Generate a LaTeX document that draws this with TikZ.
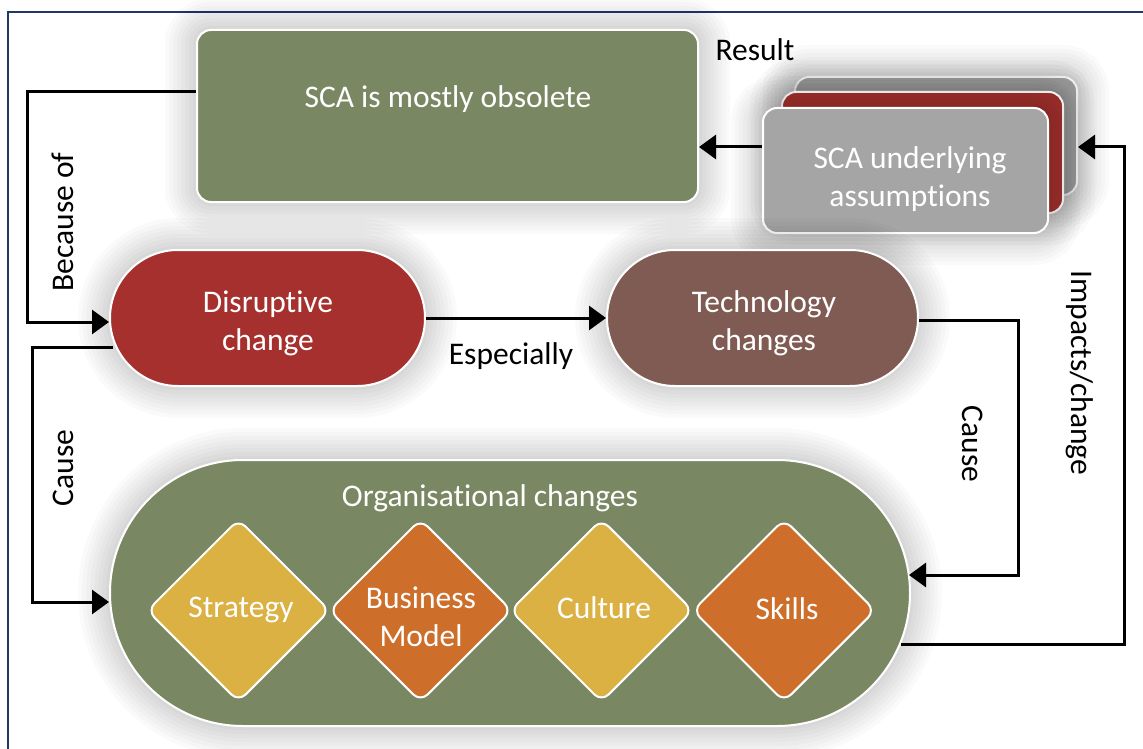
\documentclass[tikz,border=0pt]{standalone}
\usepackage{fontspec}
\setmainfont{Carlito}[Ligatures=NoCommon]
\usetikzlibrary{arrows.meta,shapes.geometric}
\definecolor{olivebox}{HTML}{7A8763}
\definecolor{redbox}{HTML}{A5302D}
\definecolor{brownbox}{HTML}{7F5B53}
\definecolor{graybox}{HTML}{A5A5A5}
\definecolor{goldbox}{HTML}{DBB143}
\definecolor{orangebox}{HTML}{CD6E2B}
\definecolor{framenavy}{HTML}{203864}
\begin{document}
\begin{tikzpicture}[x=1pt,y=-1pt,
  gl/.style={preaction={draw=black, draw opacity=0.018, line width=#1}},
  soft/.style={gl=64pt,gl=56pt,gl=48pt,gl=40pt,gl=32pt,gl=24pt,gl=16pt,gl=8pt},
  box/.style={draw=white, line width=2pt, rounded corners=14pt, inner sep=0pt, soft},
  pill/.style={draw=white, line width=2pt, rounded corners=68pt, inner sep=0pt, soft,
    minimum height=136pt},
  dia/.style={diamond, draw=white, line width=2pt, rounded corners=10pt, inner sep=0pt,
    minimum width=183pt, minimum height=183pt, shape aspect=1},
  wtext/.style={text=white, align=center, font=\fontsize{31.5}{38}\selectfont},
  btext/.style={text=black, font=\fontsize{31.5}{38}\selectfont},
  conn/.style={draw=black, line width=3pt, -{Triangle[length=17pt,width=24pt]}},
]
\useasboundingbox (0,0) rectangle (1143,749);
\fill[white] (0,0) rectangle (1143,749);
\draw[framenavy, line width=2pt] (8,770) -- (8,12) -- (1170,12);

% top boxes
\node[box, fill=olivebox, minimum width=501pt, minimum height=172pt] (sca) at (447.5,116) {};
\node[wtext] (scatext) at (448,99) {SCA is mostly obsolete};

\node[box, fill=graybox, minimum width=282pt, minimum height=118pt] (back) at (936,136) {};
\node[box, fill=redbox, minimum width=281pt, minimum height=121pt] (mid) at (922.5,152.5) {};
\node[box, fill=graybox, minimum width=285pt, minimum height=125pt] (front) at (905.5,170.5) {};
\node[wtext] (fronttext) at (910,179) {SCA underlying\\assumptions};

% middle pills
\node[pill, fill=redbox, minimum width=315pt] (dis) at (267.5,318) {};
\node[wtext] (distext) at (268,323) {Disruptive\\change};
\node[pill, fill=brownbox, minimum width=311pt] (tech) at (762.5,318) {};
\node[wtext] (techtext) at (764,323) {Technology\\changes};

% organisational changes
\node[draw=white, line width=2pt, rounded corners=133pt, inner sep=0pt, soft,
  fill=olivebox, minimum width=800pt, minimum height=266pt] (org) at (510,593) {};
\node[wtext] (orgtext) at (490,498) {Organisational changes};

\node[dia, fill=goldbox] (strat) at (238.5,610.5) {};
\node[dia, fill=orangebox] (bm) at (420.5,610.5) {};
\node[dia, fill=goldbox] (cult) at (601.5,610.5) {};
\node[dia, fill=orangebox] (skills) at (784,610.5) {};
\node[wtext] (strattext) at (241,610) {Strategy};
\node[wtext] (bmtext) at (421,617) {Business\\Model};
\node[wtext] (culttext) at (604,608) {Culture};
\node[wtext] (skillstext) at (787,609) {Skills};

% connectors
\draw[conn] ([yshift=24pt]sca.west) -- ++(-169,0) |- ([yshift=-4pt]dis.west);
\draw[conn] ([xshift=4pt,yshift=-29pt]dis.west) -- ++(-81,0) |- ([yshift=-9pt]org.west);
\draw[conn] (dis.east) -- (tech.west);
\draw[conn] ([yshift=23.5pt]front.west) -- ([yshift=23.5pt]front.west -| sca.east);
\draw[conn] ([yshift=-2pt]tech.east) -- ++(99,0) |- ([xshift=-2pt,yshift=18pt]org.east);
\draw[conn] ([xshift=-10pt,yshift=-51pt]org.east) -- ++(223,0) |- ([yshift=-11pt]back.east);

% labels
\node[btext] (lresult) at (755,50) {Result};
\node[btext] (lespec) at (511,356) {Especially};
\node[btext, rotate=90] (lbecause) at (63,222) {Because of};
\node[btext, rotate=90] (lcause1) at (63,468) {Cause};
\node[btext, rotate=-90] (lcause2) at (973,444) {Cause};
\node[btext, rotate=-90] (limpacts) at (1080,373) {Impacts/change};
\end{tikzpicture}
\end{document}
